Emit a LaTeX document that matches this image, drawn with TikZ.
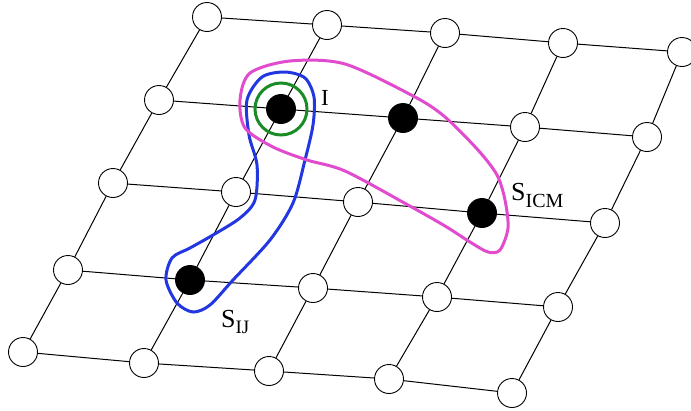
\documentclass[tikz,border=0pt]{standalone}
\usepackage{fontspec}
\setmainfont{Liberation Serif}
\usetikzlibrary{calc}
\definecolor{latblue}{RGB}{35,55,225}
\definecolor{latmagenta}{RGB}{225,75,205}
\definecolor{latgreen}{RGB}{25,140,40}

\begin{document}
\begin{tikzpicture}[x=1pt, y=-1pt,
    site/.style={circle, draw, fill=white, minimum size=29pt, inner sep=0pt, line width=0.9pt},
    occ/.style={site, fill=black},
    bond/.style={line width=1pt},
    cluster/.style={line width=3pt}]

\useasboundingbox (0,0) rectangle (691,410);

% === Sitios de la red ===
\foreach \r/\c/\x/\y/\s in {
    0/0/207/17/site, 0/1/327/25/site, 0/2/445/33/site, 0/3/563/43/site, 0/4/682/52/site,
    1/0/159/100/site, 1/1/281/109/occ, 1/2/403/118/occ, 1/3/525/127/site, 1/4/647/137/site,
    2/0/113/183/site, 2/1/236/192/site, 2/2/358/202/site, 2/3/482/213/occ, 2/4/605/223/site,
    3/0/68/270/site, 3/1/190/280/occ, 3/2/313/288/site, 3/3/437/297/site, 3/4/558/307/site,
    4/0/23/352/site, 4/1/144/363/site, 4/2/269/371/site, 4/3/389/379/site, 4/4/512/393/site}
    \node[\s] (n\r\c) at (\x,\y) {};

% === Enlaces ===
\foreach \r in {0,...,4} {
    \foreach \c [evaluate=\c as \cn using int(\c+1)] in {0,...,3} {
        \draw[bond] (n\r\c) -- (n\r\cn);
        \draw[bond] (n\c\r) -- (n\cn\r);
    }
}

% === Sitio I ===
\node[circle, draw=latgreen, line width=3pt, minimum size=52pt, inner sep=0pt] (ring) at (n11) {};
\node[anchor=base west, inner sep=0pt, font=\fontsize{23}{26}\selectfont] (lblI) at (321,105) {I};

% Cluster S_IJ
\draw[cluster, latblue] plot[smooth cycle] coordinates {
    (285,72) (305,78) (314,97) (313,125) (305,160) (293,203) (270,240)
    (233,280) (210,305) (193,312) (177,303) (166,280) (172,258) (190,248)
    (213,235) (240,218) (255,200) (257,165) (249,135) (247,100) (262,77)};
\node[anchor=base west, inner sep=0pt] (lblIJ) at (221,327)
    {\fontsize{26}{28}\selectfont S\raisebox{-6pt}{\fontsize{19}{20}\selectfont IJ}};

% Cluster S_ICM
\draw[cluster, latmagenta] plot[smooth cycle] coordinates {
    (240,100) (250,73) (290,61) (345,64) (415,97) (445,117) (478,150)
    (497,175) (505,200) (508,228) (500,250) (488,252) (470,242) (445,226)
    (408,205) (345,171) (307,160) (273,147) (245,128)};
\node[anchor=base west, inner sep=0pt] (lblICM) at (511,200)
    {\fontsize{26}{28}\selectfont S\raisebox{-7pt}{\fontsize{20}{20}\selectfont ICM}};

\end{tikzpicture}
\end{document}
